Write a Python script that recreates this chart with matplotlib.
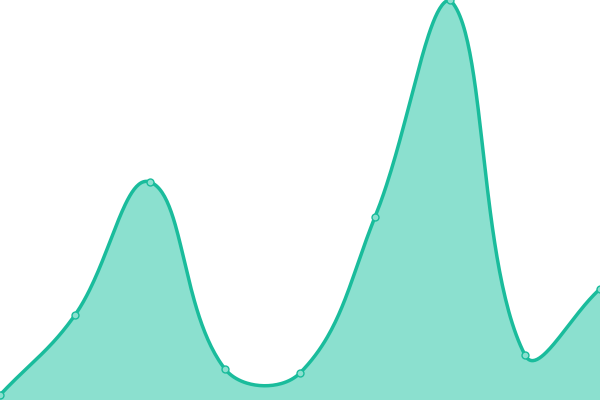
import numpy as np
import matplotlib
matplotlib.use("Agg")
import matplotlib.pyplot as plt

categories = ["A", "B", "C", "D", "E", "F", "G", "H", "I"]
values = [5, 85, 218, 31, 27, 183, 400, 45, 111]

LINE = "#1abc9c"
FILL = "#8be0cf"

W, H = 600, 400
fig = plt.figure(figsize=(W / 100, H / 100), dpi=100)
ax = fig.add_axes([0, 0, 1, 1])
ax.set_xlim(0, len(categories) - 1)
ax.set_ylim(0, 400)
ax.axis("off")

x = np.arange(len(categories), dtype=float)
y = np.array(values, dtype=float)
sx = W / (len(categories) - 1)
sy = H / 400.0
px = x * sx
py = y * sy

# Chart.js-style spline control points (tension 0.4)
t = 0.4
n = len(px)
cp_prev = np.zeros((n, 2))
cp_next = np.zeros((n, 2))
for i in range(n):
    p0 = np.array([px[max(i - 1, 0)], py[max(i - 1, 0)]])
    p1 = np.array([px[i], py[i]])
    p2 = np.array([px[min(i + 1, n - 1)], py[min(i + 1, n - 1)]])
    d01 = np.hypot(*(p1 - p0))
    d12 = np.hypot(*(p2 - p1))
    tot = d01 + d12
    s01 = d01 / tot if tot else 0
    s12 = d12 / tot if tot else 0
    fa = t * s01
    fb = t * s12
    cp_prev[i] = p1 - fa * (p2 - p0)
    cp_next[i] = p1 + fb * (p2 - p0)
cp_prev[:, 1] = np.clip(cp_prev[:, 1], 0, H)
cp_next[:, 1] = np.clip(cp_next[:, 1], 0, H)

cx, cy = [], []
tt = np.linspace(0, 1, 60)
for i in range(n - 1):
    P0 = np.array([px[i], py[i]])
    P1 = cp_next[i]
    P2 = cp_prev[i + 1]
    P3 = np.array([px[i + 1], py[i + 1]])
    b = ((1 - tt) ** 3)[:, None] * P0 + (3 * (1 - tt) ** 2 * tt)[:, None] * P1 \
        + (3 * (1 - tt) * tt ** 2)[:, None] * P2 + (tt ** 3)[:, None] * P3
    cx.extend(b[:, 0]); cy.extend(b[:, 1])
cx = np.array(cx) / sx
cy = np.array(cy) / sy

ax.fill_between(cx, 0, cy, color=FILL, linewidth=0, zorder=1)
ax.plot(cx, cy, color=LINE, linewidth=2.5, solid_capstyle="round", zorder=2)
ax.plot(x, y, "o", markersize=5, markerfacecolor=FILL, markeredgecolor=LINE,
        markeredgewidth=1, zorder=3, clip_on=True)

fig.savefig("out.png", dpi=100)
